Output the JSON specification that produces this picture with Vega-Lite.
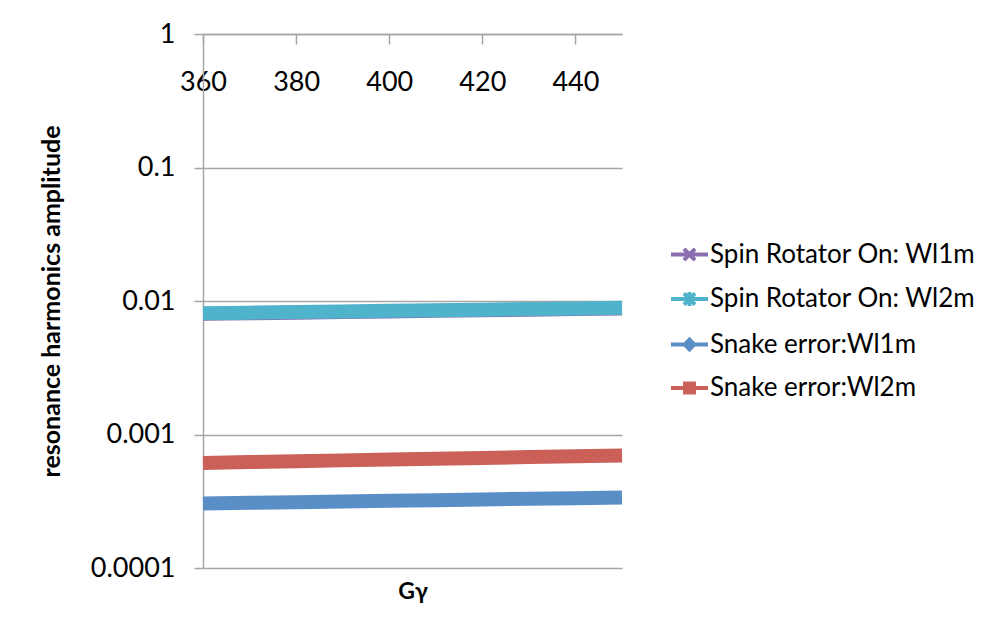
{
  "$schema": "https://vega.github.io/schema/vega-lite/v6.json",
  "width": 419,
  "height": 534,
  "autosize": {"type": "none"},
  "padding": {"left": 203, "top": 34, "right": 362, "bottom": 56},
  "background": "white",
  "config": {
    "view": {"stroke": null},
    "font": "Lato",
    "axis": {"labelFont": "Lato", "titleFont": "Lato", "labelColor": "black", "titleColor": "black"},
    "legend": {"labelFont": "Lato", "labelColor": "black"}
  },
  "data": {
    "values": [
      {"x": 360, "series": "Spin Rotator On: Wl1m", "y": 0.00802},
      {"x": 370, "series": "Spin Rotator On: Wl1m", "y": 0.0081},
      {"x": 380, "series": "Spin Rotator On: Wl1m", "y": 0.00818},
      {"x": 390, "series": "Spin Rotator On: Wl1m", "y": 0.00827},
      {"x": 400, "series": "Spin Rotator On: Wl1m", "y": 0.00835},
      {"x": 410, "series": "Spin Rotator On: Wl1m", "y": 0.00844},
      {"x": 420, "series": "Spin Rotator On: Wl1m", "y": 0.00852},
      {"x": 430, "series": "Spin Rotator On: Wl1m", "y": 0.00861},
      {"x": 440, "series": "Spin Rotator On: Wl1m", "y": 0.0087},
      {"x": 450, "series": "Spin Rotator On: Wl1m", "y": 0.0088},
      {"x": 360, "series": "Spin Rotator On: Wl2m", "y": 0.0081},
      {"x": 370, "series": "Spin Rotator On: Wl2m", "y": 0.00818},
      {"x": 380, "series": "Spin Rotator On: Wl2m", "y": 0.00827},
      {"x": 390, "series": "Spin Rotator On: Wl2m", "y": 0.00835},
      {"x": 400, "series": "Spin Rotator On: Wl2m", "y": 0.00844},
      {"x": 410, "series": "Spin Rotator On: Wl2m", "y": 0.00852},
      {"x": 420, "series": "Spin Rotator On: Wl2m", "y": 0.00861},
      {"x": 430, "series": "Spin Rotator On: Wl2m", "y": 0.0087},
      {"x": 440, "series": "Spin Rotator On: Wl2m", "y": 0.00879},
      {"x": 450, "series": "Spin Rotator On: Wl2m", "y": 0.00889},
      {"x": 360, "series": "Snake error:Wl1m", "y": 0.000304},
      {"x": 370, "series": "Snake error:Wl1m", "y": 0.000308},
      {"x": 380, "series": "Snake error:Wl1m", "y": 0.000311},
      {"x": 390, "series": "Snake error:Wl1m", "y": 0.000315},
      {"x": 400, "series": "Snake error:Wl1m", "y": 0.000319},
      {"x": 410, "series": "Snake error:Wl1m", "y": 0.000322},
      {"x": 420, "series": "Snake error:Wl1m", "y": 0.000326},
      {"x": 430, "series": "Snake error:Wl1m", "y": 0.00033},
      {"x": 440, "series": "Snake error:Wl1m", "y": 0.000333},
      {"x": 450, "series": "Snake error:Wl1m", "y": 0.000337},
      {"x": 360, "series": "Snake error:Wl2m", "y": 0.000612},
      {"x": 370, "series": "Snake error:Wl2m", "y": 0.000621},
      {"x": 380, "series": "Snake error:Wl2m", "y": 0.00063},
      {"x": 390, "series": "Snake error:Wl2m", "y": 0.00064},
      {"x": 400, "series": "Snake error:Wl2m", "y": 0.000649},
      {"x": 410, "series": "Snake error:Wl2m", "y": 0.000658},
      {"x": 420, "series": "Snake error:Wl2m", "y": 0.000667},
      {"x": 430, "series": "Snake error:Wl2m", "y": 0.000677},
      {"x": 440, "series": "Snake error:Wl2m", "y": 0.000686},
      {"x": 450, "series": "Snake error:Wl2m", "y": 0.000696}
    ]
  },
  "resolve": {"axis": {"x": "independent"}},
  "layer": [
    {
      "mark": {"type": "line", "strokeWidth": 14, "strokeCap": "butt", "strokeJoin": "round"},
      "encoding": {
        "x": {
          "field": "x", "type": "quantitative",
          "scale": {"domain": [360, 450], "nice": false, "zero": false},
          "axis": {
            "orient": "top", "title": null, "grid": false,
            "values": [360, 380, 400, 420, 440],
            "domainColor": "#A6A6A6", "domainWidth": 1.5,
            "tickColor": "#A6A6A6", "tickSize": -10, "tickWidth": 1.5,
            "labelFontSize": 27, "labelPadding": -38, "labelBaseline": "middle",
            "labelFlush": false
          }
        },
        "y": {
          "field": "y", "type": "quantitative",
          "scale": {"type": "log", "domain": [0.0001, 1], "nice": false},
          "axis": {
            "title": "resonance harmonics amplitude",
            "titleFontSize": 25, "titleFontWeight": "bold", "titlePadding": 26,
            "values": [0.0001, 0.001, 0.01, 0.1, 1],
            "format": "~g",
            "grid": true, "gridColor": "#A6A6A6", "gridWidth": 1.5,
            "domainColor": "#A6A6A6", "domainWidth": 1.5,
            "tickColor": "#A6A6A6", "tickSize": 9, "tickWidth": 1.5,
            "labelFontSize": 27, "labelPadding": 19, "labelBaseline": "middle"
          }
        },
        "color": {
          "field": "series", "type": "nominal",
          "scale": {
            "domain": ["Spin Rotator On: Wl1m", "Spin Rotator On: Wl2m", "Snake error:Wl1m", "Snake error:Wl2m"],
            "range": ["#8A6EB0", "#4FB3CC", "#5A8EC6", "#CB6059"]
          },
          "legend": {
            "title": null,
            "orient": "none",
            "legendX": 466,
            "legendY": 200,
            "labelFontSize": 26,
            "labelLimit": 400,
            "labelOffset": 0,
            "rowPadding": 9.5,
            "symbolSize": 1369,
            "symbolStrokeWidth": 4,
            "encode": {
              "symbols": {
                "update": {
                  "shape": {"signal": "datum.value === 'Spin Rotator On: Wl1m' ? 'M-1,0H1M-0.3,-0.3L0.3,0.3M-0.3,0.3L0.3,-0.3' : datum.value === 'Spin Rotator On: Wl2m' ? 'M-1,0H1M-0.3,-0.3L0.3,0.3M-0.3,0.3L0.3,-0.3M0,-0.38V0.38' : datum.value === 'Snake error:Wl1m' ? 'M-1,0H1M0,-0.26L0.26,0L0,0.26L-0.26,0Z' : 'M-1,0H1M-0.24,-0.24H0.24V0.24H-0.24Z'"},
                  "fill": {"scale": "color", "field": "value"},
                  "stroke": {"scale": "color", "field": "value"},
                  "strokeWidth": {"value": 4},
                  "size": {"value": 1369}
                }
              }
            }
          }
        }
      }
    },
    {
      "mark": {"type": "rule", "opacity": 0},
      "encoding": {
        "x": {
          "field": "x", "type": "quantitative",
          "axis": {
            "orient": "bottom", "title": "Gγ", "titleFontSize": 23, "titleFontWeight": "bold",
            "labels": false, "ticks": false, "domain": false, "grid": false, "titlePadding": 12
          }
        }
      }
    }
  ]
}
